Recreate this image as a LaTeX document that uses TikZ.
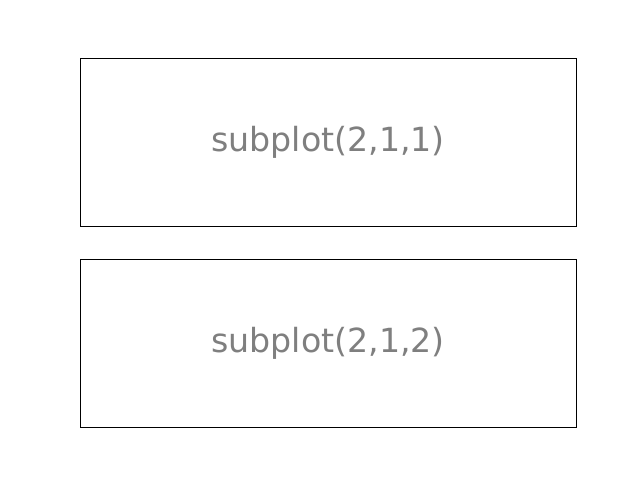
\documentclass[tikz,border=0pt]{standalone}
\usepackage{fontspec}
\setmainfont{DejaVu Sans}
\definecolor{txtgray}{HTML}{7F7F7F}
\begin{document}
\begin{tikzpicture}[x=0.01in,y=-0.01in,
  axbox/.style={draw=black,line width=0.6pt},
  lbl/.style={text=txtgray,font=\fontsize{24}{28}\selectfont,inner sep=0pt,anchor=center}]
\useasboundingbox[fill=white] (0,0) rectangle (640,480);
\draw[axbox] (80,58) rectangle (576,226);
\draw[axbox] (80,259) rectangle (576,427);
\node[lbl] (t1) at (328,142) {subplot(2,1,1)};
\node[lbl] (t2) at (328,343) {subplot(2,1,2)};
\end{tikzpicture}
\end{document}
